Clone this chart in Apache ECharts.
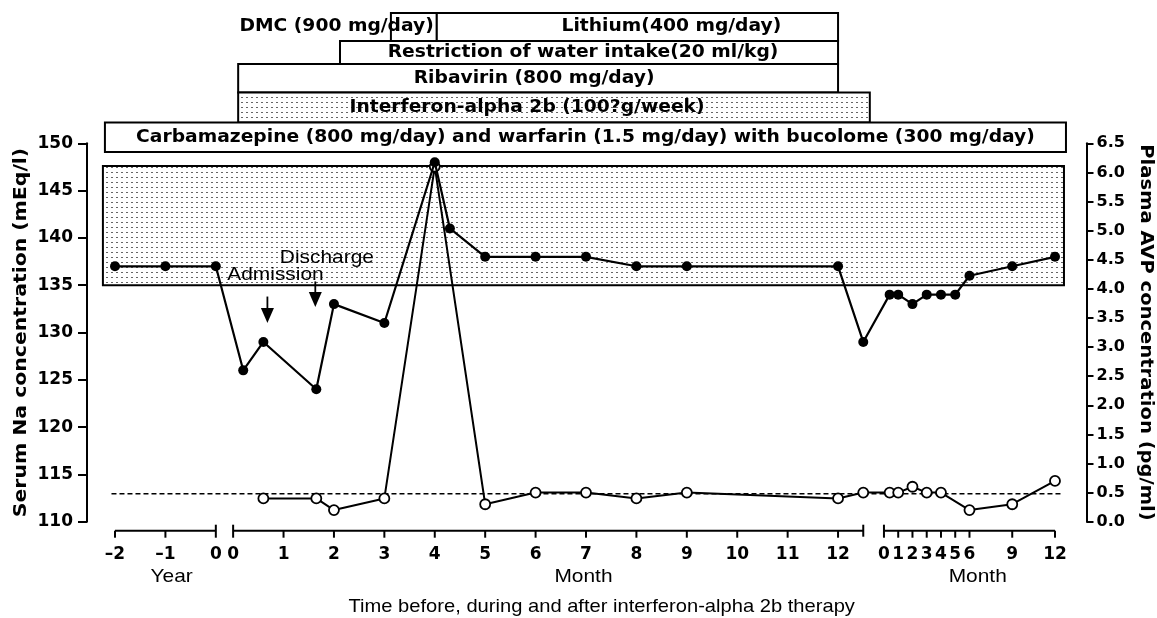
<!DOCTYPE html>
<html><head><meta charset="utf-8">
<script src="https://cdn.jsdelivr.net/npm/echarts@6/dist/echarts.min.js"></script>
<style>html,body{margin:0;padding:0;background:#fff}#c{width:1157px;height:618px}</style>
</head><body><div id="c"></div>
<script>
// ================= DATA =================
// Time sections: 'Y' = years before therapy, 'M' = months during therapy, 'P' = months after therapy
const naYear  = [[-2,137],[-1,137],[0,137]];
const naMonth = [[0.2,126],[0.6,129],[1.65,124],[2,133],[3,131],[4,148],[4.3,141],[5,138],[6,138],[7,138],[8,137],[9,137],[12,137],[12.5,129]];
const naPost  = [[0.4,134],[1,134],[2,133],[3,134],[4,134],[5,134],[6,136],[9,137],[12,138]];
const avpMonth = [[0.6,0.4],[1.65,0.4],[2,0.2],[3,0.4],[4,6.1],[5,0.3],[6,0.5],[7,0.5],[8,0.4],[9,0.5],[12,0.4],[12.5,0.5]];
const avpPost  = [[0.4,0.5],[1,0.5],[2,0.6],[3,0.5],[4,0.5],[6,0.2],[9,0.3],[12,0.7]];
const naNormalRange = [135, 147.6];
const naNormalSpan = [['Y',-2.24],['P',12.63]];
const avpReference = 0.48;
const avpReferenceSpan = [['Y',-2.07],['P',12.47]];

const yearTicks = [-2,-1,0];
const yearTickLabels = ['–2','–1','0'];
const monthTicks = [0,1,2,3,4,5,6,7,8,9,10,11,12];
const monthTickLabels = ['0','1','2','3','4','5','6','7','8','9','10','11','12'];
const postTicks = [0,1,2,3,4,5,6,9,12];
const postTickLabels = ['0','1','2','3','4','5','6','9','12'];

const treatmentNames = ['DMC (900 mg/day)','Lithium(400 mg/day)','Restriction of water intake(20 ml/kg)','Ribavirin (800 mg/day)','Interferon-alpha 2b (100?g/week)','Carbamazepine (800 mg/day) and warfarin (1.5 mg/day) with bucolome (300 mg/day)'];
const treatmentStart = [['M',3.13],['M',4.04],['M',2.12],['M',0.1],['M',0.1],['Y',-2.2]];
const treatmentEnd   = [['M',4.04],['M',12],['M',12],['M',12],['M',12.63],['P',12.77]];

const eventNames = ['Admission','Discharge'];
const eventTimes = [['M',0.68],['M',1.63]];

const leftAxisTitle = 'Serum Na concentration (mEq/l)';
const rightAxisTitle = 'Plasma AVP concentration (pg/ml)';
const xAxisTitle = 'Time before, during and after interferon-alpha 2b therapy';

// ================= SCALE (broken time axis) =================
const U = 50.4;                       // px per month-unit
const GAP1 = 17.3/U, GAP2 = 20.7/U, POSTK = 14.25/U;
function X(sec,t){
  if(sec==='Y') return t;
  if(sec==='M') return GAP1 + t;
  return GAP1 + 12.5 + GAP2 + t*POSTK;
}
const toXY = (sec, arr) => arr.map(d => [X(sec,d[0]), d[1]]);
const naData  = [...toXY('Y',naYear), ...toXY('M',naMonth), ...toXY('P',naPost)];
const avpData = [...toXY('M',avpMonth), ...toXY('P',avpPost)];
const xMin = X('Y',-2) - 28/U, xMax = X('P',12) + 31.5/U;

// ================= STYLE / LAYOUT =================
const BOLD17 = 'bold 17px "DejaVu Sans"';
const REG = '19px "Liberation Sans"';
const ROW_Y = [[13,41],[41,64],[64,92.5],[92.5,122.5],[122.5,152]];
const TREAT_ROW = [0,0,1,2,3,4];
const TREAT_DX = [0,34,-6,-4,-27,0];
const EVENT_LAYOUT = [
  {labelDt:0.16, labelNa:136.1, fromNa:133.8, toNa:131.0},
  {labelDt:0.23, labelNa:137.9, fromNa:135.4, toNa:132.7}
];
function makeDots(){
  const c=document.createElement('canvas'); c.width=5; c.height=5;
  const g=c.getContext('2d'); g.fillStyle='#fff'; g.fillRect(0,0,5,5);
  g.fillStyle='#666'; g.fillRect(1,2,2,1); return c;
}
const dots = {image: makeDots(), repeat:'repeat'};

const chart = echarts.init(document.getElementById('c'), null, {renderer:'canvas'});

const sections = [
  {sec:'Y', from:-2, to:0, ticks:yearTicks, labels:yearTickLabels, breaks:[0]},
  {sec:'M', from:0, to:12.5, ticks:monthTicks, labels:monthTickLabels, breaks:[0,12.5]},
  {sec:'P', from:0, to:12, ticks:postTicks, labels:postTickLabels, breaks:[0]}
];

function axisRender(params, api){
  const ch = [];
  const yb = api.coord([xMin,110])[1];
  const yt = api.coord([xMin,150])[1];
  const gl = api.coord([xMin,110])[0];
  const gr = api.coord([xMax,110])[0];
  const yl = yb + 9;
  const px = (s,t) => api.coord([X(s,t),110])[0];
  sections.forEach(s=>{
    ch.push({type:'line', shape:{x1:px(s.sec,s.from),y1:yl,x2:px(s.sec,s.to),y2:yl}, style:{stroke:'#000',lineWidth:2}});
    s.ticks.forEach((t,i)=>{
      const x = px(s.sec,t);
      const br = s.breaks.indexOf(t)>=0;
      ch.push({type:'line', shape:{x1:x,y1:br?yl-6:yl,x2:x,y2:yl+7}, style:{stroke:'#000',lineWidth:2}});
      ch.push({type:'text', x:x, y:yb+32.5, style:{text:s.labels[i], font:BOLD17, fill:'#000', align:'center', verticalAlign:'middle'}});
    });
    s.breaks.forEach(t=>{
      if(s.ticks.indexOf(t)<0){
        const x = px(s.sec,t);
        ch.push({type:'line', shape:{x1:x,y1:yl-6,x2:x,y2:yl+6}, style:{stroke:'#000',lineWidth:2}});
      }
    });
  });
  ch.push({type:'text', x:px('Y',-0.875), y:yb+55.5, scaleX:1.1, style:{text:'Year', font:REG, fill:'#000', align:'center', verticalAlign:'middle'}});
  ch.push({type:'text', x:px('M',6.95), y:yb+55.5, scaleX:1.1, style:{text:'Month', font:REG, fill:'#000', align:'center', verticalAlign:'middle'}});
  ch.push({type:'text', x:px('P',6.58), y:yb+55.5, scaleX:1.1, style:{text:'Month', font:REG, fill:'#000', align:'center', verticalAlign:'middle'}});
  ch.push({type:'text', x:601.7, y:yb+85, scaleX:1.06, style:{text:xAxisTitle, font:'19px "Liberation Sans"', fill:'#000', align:'center', verticalAlign:'middle'}});
  const ym = (yb+yt)/2;
  ch.push({type:'text', x:gl-65, y:ym, rotation:Math.PI/2, scaleX:1.2, style:{text:leftAxisTitle, font:BOLD17, fill:'#000', align:'center', verticalAlign:'middle'}});
  ch.push({type:'text', x:gr+58.5, y:ym, rotation:-Math.PI/2, scaleX:1.15, style:{text:rightAxisTitle, font:BOLD17, fill:'#000', align:'center', verticalAlign:'middle'}});
  // events
  eventNames.forEach((n,i)=>{
    const L = EVENT_LAYOUT[i];
    const [s,t] = eventTimes[i];
    const lp = api.coord([X(s,t+L.labelDt), L.labelNa]);
    ch.push({type:'text', x:lp[0], y:lp[1], scaleX:1.1, style:{text:n, font:'19px "Liberation Sans"', fill:'#000', align:'center', verticalAlign:'middle'}});
    const a = api.coord([X(s,t), L.fromNa]);
    const b = api.coord([X(s,t), L.toNa]);
    ch.push({type:'line', shape:{x1:a[0],y1:a[1],x2:b[0],y2:b[1]-10}, style:{stroke:'#000',lineWidth:1.8}});
    ch.push({type:'polygon', shape:{points:[[b[0]-6.5,b[1]-15],[b[0]+6.5,b[1]-15],[b[0],b[1]]]}, style:{fill:'#000'}});
  });
  return {type:'group', children:ch};
}

function treatRender(params, api){
  const i = params.dataIndex;
  const x0 = api.coord([api.value(0),110])[0];
  const x1 = api.coord([api.value(1),110])[0];
  const [y0,y1] = ROW_Y[TREAT_ROW[i]];
  const ch = [{type:'rect', shape:{x:x0,y:y0,width:x1-x0,height:y1-y0}, style:{fill: i===4?dots:'#fff', stroke:'#000', lineWidth:2}}];
  let tx, align='center';
  if(i===0){ tx = x1-3; align='right'; } else { tx = (x0+x1)/2 + TREAT_DX[i]; }
  ch.push({type:'text', x:tx, y:(y0+y1)/2, scaleX:1.1, style:{text:treatmentNames[i], font:BOLD17, fill:'#000', align:align, verticalAlign:'middle'}});
  return {type:'group', children:ch};
}

function rangeRender(params, api){
  const a = api.coord([api.value(0), api.value(3)]);
  const b = api.coord([api.value(1), api.value(2)]);
  return {type:'rect', shape:{x:a[0],y:a[1],width:b[0]-a[0],height:b[1]-a[1]}, style:{fill:dots, stroke:'#000', lineWidth:2}};
}

const yAxisCommon = {
  axisLine:{show:true, onZero:false, lineStyle:{color:'#000', width:2}},
  splitLine:{show:false}
};
const option = {
  animation:false,
  backgroundColor:'#fff',
  grid:{left:87, right:70.5, top:143.3, bottom:96.3, containLabel:false, outerBoundsMode:'none'},
  xAxis:{type:'value', min:xMin, max:xMax, show:false},
  yAxis:[
    Object.assign({type:'value', min:110, max:150, interval:5, position:'left',
     axisTick:{show:true, length:9, lineStyle:{color:'#000', width:2}},
     axisLabel:{color:'#000', fontFamily:'DejaVu Sans', fontWeight:'bold', fontSize:17, margin:14}}, yAxisCommon),
    Object.assign({type:'value', min:0, max:6.5, interval:0.5, position:'right',
     axisTick:{show:true, length:7, lineStyle:{color:'#000', width:2}},
     axisLabel:{color:'#000', fontFamily:'DejaVu Sans', fontWeight:'bold', fontSize:16, margin:10, formatter:v=>v.toFixed(1)}}, yAxisCommon)
  ],
  series:[
    {type:'custom', name:'Na normal range', silent:true, z:1, yAxisIndex:0,
     data:[[X(...naNormalSpan[0]), X(...naNormalSpan[1]), naNormalRange[0], naNormalRange[1]]],
     renderItem:rangeRender},
    {type:'line', name:'AVP reference', silent:true, z:2, yAxisIndex:1, symbol:'none',
     data:[[X(...avpReferenceSpan[0]), avpReference],[X(...avpReferenceSpan[1]), avpReference]],
     lineStyle:{color:'#000', width:1.4, type:[5,3]}},
    {type:'line', name:'Plasma AVP', z:3, yAxisIndex:1, data:avpData, symbol:'circle', symbolSize:10,
     itemStyle:{color:'#fff', borderColor:'#000', borderWidth:1.8},
     lineStyle:{color:'#000', width:2}},
    {type:'line', name:'Serum Na', z:4, yAxisIndex:0, data:naData, symbol:'circle', symbolSize:10,
     itemStyle:{color:'#000'}, lineStyle:{color:'#000', width:2.2}},
    {type:'custom', name:'Treatments', silent:true, z:5, yAxisIndex:0, clip:false,
     data:treatmentNames.map((n,i)=>[X(...treatmentStart[i]), X(...treatmentEnd[i])]),
     renderItem:treatRender},
    {type:'custom', name:'Time axis', silent:true, z:5, yAxisIndex:0, clip:false,
     data:[[xMin,110]], renderItem:axisRender}
  ]
};
chart.setOption(option);
</script>
</body></html>
